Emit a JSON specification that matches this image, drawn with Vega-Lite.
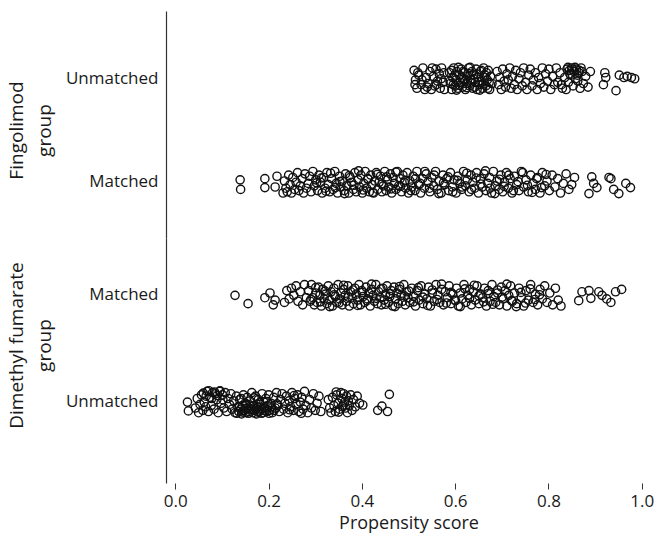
{
"$schema": "https://vega.github.io/schema/vega-lite/v6.json",
"background": "white",
"padding": {"left": 7, "top": 11, "right": 0, "bottom": 4},
"spacing": 0,
"config": {
  "font": "Open Sans",
  "view": {"stroke": null},
  "axis": {"labelFont": "Open Sans", "titleFont": "Open Sans", "labelFontSize": 17, "titleFontSize": 19, "titleFontWeight": "normal", "labelColor": "#1a1a1a", "titleColor": "#1a1a1a", "domainColor": "#333333", "tickColor": "#333333", "grid": false, "titleLineHeight": 28}
},
"datasets": {
"fing": [
{"s":"Unmatched","x":0.512,"j":-0.7},{"s":"Unmatched","x":0.515,"j":0.1},{"s":"Unmatched","x":0.518,"j":0.8},{"s":"Unmatched","x":0.522,"j":-0.3},{"s":"Unmatched","x":0.527,"j":0.5},{"s":"Unmatched","x":0.531,"j":-0.9},{"s":"Unmatched","x":0.535,"j":0.9},{"s":"Unmatched","x":0.538,"j":-0.1},{"s":"Unmatched","x":0.542,"j":0.4},{"s":"Unmatched","x":0.546,"j":-0.6},{"s":"Unmatched","x":0.549,"j":0.9},{"s":"Unmatched","x":0.553,"j":-0.2},{"s":"Unmatched","x":0.556,"j":0.6},{"s":"Unmatched","x":0.559,"j":-0.8},{"s":"Unmatched","x":0.562,"j":0.2},{"s":"Unmatched","x":0.566,"j":-0.4},{"s":"Unmatched","x":0.568,"j":0.8},{"s":"Unmatched","x":0.571,"j":-0.9},{"s":"Unmatched","x":0.574,"j":0.3},{"s":"Unmatched","x":0.577,"j":0.9},
{"s":"Unmatched","x":0.514,"j":0.5},{"s":"Unmatched","x":0.520,"j":-0.5},{"s":"Unmatched","x":0.529,"j":0.1},{"s":"Unmatched","x":0.540,"j":0.7},{"s":"Unmatched","x":0.551,"j":-0.9},{"s":"Unmatched","x":0.560,"j":0.5},{"s":"Unmatched","x":0.570,"j":0.0},{"s":"Unmatched","x":0.576,"j":-0.5},
{"s":"Unmatched","x":0.588,"j":-0.5},{"s":"Unmatched","x":0.590,"j":0.4},{"s":"Unmatched","x":0.593,"j":0.9},{"s":"Unmatched","x":0.595,"j":-0.1},{"s":"Unmatched","x":0.597,"j":-0.9},{"s":"Unmatched","x":0.600,"j":0.6},{"s":"Unmatched","x":0.602,"j":0.1},{"s":"Unmatched","x":0.604,"j":-0.6},{"s":"Unmatched","x":0.606,"j":0.8},{"s":"Unmatched","x":0.609,"j":-0.3},{"s":"Unmatched","x":0.611,"j":0.3},{"s":"Unmatched","x":0.613,"j":-0.8},{"s":"Unmatched","x":0.616,"j":0.7},{"s":"Unmatched","x":0.618,"j":0.0},{"s":"Unmatched","x":0.620,"j":-0.5},{"s":"Unmatched","x":0.622,"j":0.9},{"s":"Unmatched","x":0.624,"j":0.4},{"s":"Unmatched","x":0.627,"j":-0.2},{"s":"Unmatched","x":0.629,"j":-0.9},{"s":"Unmatched","x":0.631,"j":0.6},{"s":"Unmatched","x":0.633,"j":0.1},{"s":"Unmatched","x":0.636,"j":-0.6},{"s":"Unmatched","x":0.638,"j":0.8},{"s":"Unmatched","x":0.640,"j":-0.3},{"s":"Unmatched","x":0.643,"j":0.3},{"s":"Unmatched","x":0.645,"j":-0.8},{"s":"Unmatched","x":0.647,"j":0.9},{"s":"Unmatched","x":0.650,"j":-0.1},{"s":"Unmatched","x":0.652,"j":0.5},{"s":"Unmatched","x":0.654,"j":-0.6},{"s":"Unmatched","x":0.657,"j":0.2},{"s":"Unmatched","x":0.659,"j":0.8},{"s":"Unmatched","x":0.661,"j":-0.9},{"s":"Unmatched","x":0.664,"j":-0.3},{"s":"Unmatched","x":0.666,"j":0.6},{"s":"Unmatched","x":0.669,"j":0.1},{"s":"Unmatched","x":0.671,"j":-0.7},{"s":"Unmatched","x":0.674,"j":0.9},{"s":"Unmatched","x":0.676,"j":-0.2},{"s":"Unmatched","x":0.679,"j":0.4},
{"s":"Unmatched","x":0.589,"j":0.2},{"s":"Unmatched","x":0.592,"j":-0.7},{"s":"Unmatched","x":0.596,"j":0.5},{"s":"Unmatched","x":0.599,"j":-0.3},{"s":"Unmatched","x":0.603,"j":0.95},{"s":"Unmatched","x":0.607,"j":-0.95},{"s":"Unmatched","x":0.610,"j":0.55},{"s":"Unmatched","x":0.614,"j":-0.1},{"s":"Unmatched","x":0.617,"j":-0.6},{"s":"Unmatched","x":0.621,"j":0.2},{"s":"Unmatched","x":0.625,"j":0.75},{"s":"Unmatched","x":0.628,"j":-0.45},{"s":"Unmatched","x":0.632,"j":-0.95},{"s":"Unmatched","x":0.635,"j":0.35},{"s":"Unmatched","x":0.639,"j":0.0},{"s":"Unmatched","x":0.642,"j":0.7},{"s":"Unmatched","x":0.646,"j":-0.4},{"s":"Unmatched","x":0.649,"j":0.25},{"s":"Unmatched","x":0.653,"j":0.95},{"s":"Unmatched","x":0.656,"j":-0.7},{"s":"Unmatched","x":0.660,"j":0.45},{"s":"Unmatched","x":0.663,"j":-0.1},{"s":"Unmatched","x":0.667,"j":-0.5},{"s":"Unmatched","x":0.670,"j":0.8},{"s":"Unmatched","x":0.673,"j":0.3},
{"s":"Unmatched","x":0.690,"j":-0.6},{"s":"Unmatched","x":0.693,"j":0.5},{"s":"Unmatched","x":0.696,"j":-0.1},{"s":"Unmatched","x":0.699,"j":0.9},{"s":"Unmatched","x":0.702,"j":-0.8},{"s":"Unmatched","x":0.705,"j":0.2},{"s":"Unmatched","x":0.708,"j":0.7},{"s":"Unmatched","x":0.711,"j":-0.4},{"s":"Unmatched","x":0.714,"j":0.1},{"s":"Unmatched","x":0.717,"j":-0.9},{"s":"Unmatched","x":0.720,"j":0.8},{"s":"Unmatched","x":0.723,"j":-0.2},{"s":"Unmatched","x":0.727,"j":0.5},{"s":"Unmatched","x":0.730,"j":-0.7},{"s":"Unmatched","x":0.733,"j":0.9},{"s":"Unmatched","x":0.737,"j":0.0},{"s":"Unmatched","x":0.740,"j":-0.5},{"s":"Unmatched","x":0.744,"j":0.6},{"s":"Unmatched","x":0.747,"j":-0.9},{"s":"Unmatched","x":0.751,"j":0.3},{"s":"Unmatched","x":0.754,"j":0.9},{"s":"Unmatched","x":0.758,"j":-0.3},{"s":"Unmatched","x":0.761,"j":-0.8},{"s":"Unmatched","x":0.765,"j":0.6},{"s":"Unmatched","x":0.768,"j":0.1},{"s":"Unmatched","x":0.772,"j":-0.5},{"s":"Unmatched","x":0.776,"j":0.9},{"s":"Unmatched","x":0.779,"j":-0.1},{"s":"Unmatched","x":0.783,"j":0.4},{"s":"Unmatched","x":0.787,"j":-0.9},{"s":"Unmatched","x":0.790,"j":0.7},{"s":"Unmatched","x":0.794,"j":-0.4},{"s":"Unmatched","x":0.798,"j":0.2},{"s":"Unmatched","x":0.801,"j":-0.8},{"s":"Unmatched","x":0.805,"j":0.9},{"s":"Unmatched","x":0.809,"j":-0.2},{"s":"Unmatched","x":0.813,"j":0.5},{"s":"Unmatched","x":0.817,"j":-0.9},{"s":"Unmatched","x":0.820,"j":0.3},{"s":"Unmatched","x":0.825,"j":-0.5},{"s":"Unmatched","x":0.828,"j":0.5},{"s":"Unmatched","x":0.830,"j":0.8},{"s":"Unmatched","x":0.835,"j":-0.1},{"s":"Unmatched","x":0.838,"j":0.9},{"s":"Unmatched","x":0.840,"j":-0.8},{"s":"Unmatched","x":0.845,"j":-0.7},{"s":"Unmatched","x":0.848,"j":-0.3},{"s":"Unmatched","x":0.850,"j":-0.9},{"s":"Unmatched","x":0.855,"j":-0.6},{"s":"Unmatched","x":0.858,"j":0.0},{"s":"Unmatched","x":0.860,"j":-0.8},{"s":"Unmatched","x":0.865,"j":-0.5},{"s":"Unmatched","x":0.868,"j":0.8},{"s":"Unmatched","x":0.870,"j":-0.9},{"s":"Unmatched","x":0.875,"j":0.4},{"s":"Unmatched","x":0.880,"j":-0.2},{"s":"Unmatched","x":0.885,"j":0.7},{"s":"Unmatched","x":0.890,"j":-0.6},
{"s":"Unmatched","x":0.842,"j":-0.95},{"s":"Unmatched","x":0.846,"j":-0.4},{"s":"Unmatched","x":0.852,"j":-0.75},{"s":"Unmatched","x":0.857,"j":-0.95},{"s":"Unmatched","x":0.862,"j":-0.3},{"s":"Unmatched","x":0.866,"j":-0.7},{"s":"Unmatched","x":0.872,"j":-0.6},{"s":"Unmatched","x":0.843,"j":0.3},{"s":"Unmatched","x":0.853,"j":0.6},{"s":"Unmatched","x":0.863,"j":0.2},
{"s":"Unmatched","x":0.921,"j":-0.5},{"s":"Unmatched","x":0.923,"j":-0.1},{"s":"Unmatched","x":0.918,"j":0.5},{"s":"Unmatched","x":0.945,"j":1.0},{"s":"Unmatched","x":0.952,"j":-0.3},{"s":"Unmatched","x":0.962,"j":-0.1},{"s":"Unmatched","x":0.969,"j":-0.2},{"s":"Unmatched","x":0.978,"j":-0.1},{"s":"Unmatched","x":0.985,"j":0.0},
{"s":"Matched","x":0.139,"j":-0.2},{"s":"Matched","x":0.140,"j":0.6},{"s":"Matched","x":0.192,"j":-0.3},{"s":"Matched","x":0.218,"j":-0.5},{"s":"Matched","x":0.192,"j":0.45},{"s":"Matched","x":0.214,"j":0.4},
{"s":"Matched","x":0.231,"j":0.9},{"s":"Matched","x":0.234,"j":-0.1},{"s":"Matched","x":0.237,"j":0.5},{"s":"Matched","x":0.240,"j":0.8},{"s":"Matched","x":0.243,"j":-0.6},{"s":"Matched","x":0.246,"j":0.2},{"s":"Matched","x":0.249,"j":0.9},{"s":"Matched","x":0.252,"j":-0.4},{"s":"Matched","x":0.256,"j":0.6},{"s":"Matched","x":0.259,"j":0.0},{"s":"Matched","x":0.262,"j":-0.8},{"s":"Matched","x":0.265,"j":0.7},{"s":"Matched","x":0.268,"j":0.3},{"s":"Matched","x":0.272,"j":-0.3},{"s":"Matched","x":0.275,"j":0.9},{"s":"Matched","x":0.278,"j":-0.7},{"s":"Matched","x":0.281,"j":0.5},{"s":"Matched","x":0.285,"j":0.1},{"s":"Matched","x":0.288,"j":-0.5},{"s":"Matched","x":0.291,"j":0.8},{"s":"Matched","x":0.295,"j":-0.9},{"s":"Matched","x":0.298,"j":0.3},{"s":"Matched","x":0.301,"j":-0.2},{"s":"Matched","x":0.305,"j":0.7},{"s":"Matched","x":0.308,"j":-0.6},{"s":"Matched","x":0.311,"j":0.0},{"s":"Matched","x":0.315,"j":0.9},{"s":"Matched","x":0.318,"j":-0.4},{"s":"Matched","x":0.321,"j":0.5},{"s":"Matched","x":0.325,"j":-0.8},{"s":"Matched","x":0.328,"j":0.2},{"s":"Matched","x":0.331,"j":0.8},{"s":"Matched","x":0.335,"j":-0.3},{"s":"Matched","x":0.338,"j":0.6},{"s":"Matched","x":0.342,"j":-0.9},{"s":"Matched","x":0.345,"j":0.1},{"s":"Matched","x":0.348,"j":0.9},{"s":"Matched","x":0.352,"j":-0.5},{"s":"Matched","x":0.355,"j":0.4},{"s":"Matched","x":0.358,"j":-0.1},{"s":"Matched","x":0.362,"j":0.7},{"s":"Matched","x":0.365,"j":-0.7},{"s":"Matched","x":0.368,"j":0.3},{"s":"Matched","x":0.372,"j":0.9},{"s":"Matched","x":0.375,"j":-0.4},{"s":"Matched","x":0.378,"j":0.0},{"s":"Matched","x":0.382,"j":0.6},{"s":"Matched","x":0.385,"j":-0.8},{"s":"Matched","x":0.388,"j":0.8},{"s":"Matched","x":0.392,"j":-0.2},{"s":"Matched","x":0.395,"j":0.4},{"s":"Matched","x":0.398,"j":-0.6},
{"s":"Matched","x":0.401,"j":0.9},{"s":"Matched","x":0.404,"j":0.1},{"s":"Matched","x":0.407,"j":-0.9},{"s":"Matched","x":0.410,"j":0.5},{"s":"Matched","x":0.413,"j":-0.3},{"s":"Matched","x":0.416,"j":0.8},{"s":"Matched","x":0.419,"j":-0.6},{"s":"Matched","x":0.422,"j":0.2},{"s":"Matched","x":0.425,"j":0.9},{"s":"Matched","x":0.428,"j":-0.1},{"s":"Matched","x":0.431,"j":-0.8},{"s":"Matched","x":0.434,"j":0.6},{"s":"Matched","x":0.437,"j":0.0},{"s":"Matched","x":0.440,"j":-0.5},{"s":"Matched","x":0.443,"j":0.8},{"s":"Matched","x":0.446,"j":0.3},{"s":"Matched","x":0.449,"j":-0.9},{"s":"Matched","x":0.452,"j":0.7},{"s":"Matched","x":0.455,"j":-0.2},{"s":"Matched","x":0.458,"j":0.4},{"s":"Matched","x":0.461,"j":-0.7},{"s":"Matched","x":0.464,"j":0.9},{"s":"Matched","x":0.467,"j":-0.4},{"s":"Matched","x":0.470,"j":0.1},{"s":"Matched","x":0.473,"j":0.6},{"s":"Matched","x":0.476,"j":-0.9},{"s":"Matched","x":0.479,"j":0.3},{"s":"Matched","x":0.482,"j":-0.3},{"s":"Matched","x":0.485,"j":0.8},{"s":"Matched","x":0.488,"j":-0.6},{"s":"Matched","x":0.491,"j":0.0},{"s":"Matched","x":0.494,"j":0.5},{"s":"Matched","x":0.497,"j":-0.8},{"s":"Matched","x":0.500,"j":0.9},{"s":"Matched","x":0.503,"j":-0.1},{"s":"Matched","x":0.507,"j":0.4},{"s":"Matched","x":0.510,"j":-0.5},{"s":"Matched","x":0.514,"j":0.7},{"s":"Matched","x":0.518,"j":-0.9},{"s":"Matched","x":0.522,"j":0.2},{"s":"Matched","x":0.526,"j":0.9},{"s":"Matched","x":0.530,"j":-0.3},{"s":"Matched","x":0.534,"j":0.5},{"s":"Matched","x":0.538,"j":-0.7},{"s":"Matched","x":0.542,"j":0.0},{"s":"Matched","x":0.546,"j":0.8},{"s":"Matched","x":0.550,"j":-0.4},{"s":"Matched","x":0.554,"j":0.3},{"s":"Matched","x":0.558,"j":-0.9},{"s":"Matched","x":0.562,"j":0.6},{"s":"Matched","x":0.566,"j":-0.1},{"s":"Matched","x":0.570,"j":0.9},{"s":"Matched","x":0.574,"j":-0.6},{"s":"Matched","x":0.578,"j":0.2},{"s":"Matched","x":0.582,"j":-0.3},{"s":"Matched","x":0.586,"j":0.7},{"s":"Matched","x":0.590,"j":-0.8},{"s":"Matched","x":0.594,"j":0.4},{"s":"Matched","x":0.598,"j":-0.2},
{"s":"Matched","x":0.602,"j":0.9},{"s":"Matched","x":0.606,"j":-0.5},{"s":"Matched","x":0.610,"j":0.1},{"s":"Matched","x":0.614,"j":0.6},{"s":"Matched","x":0.618,"j":-0.9},{"s":"Matched","x":0.622,"j":0.3},{"s":"Matched","x":0.626,"j":-0.2},{"s":"Matched","x":0.630,"j":0.8},{"s":"Matched","x":0.634,"j":-0.6},{"s":"Matched","x":0.638,"j":0.0},{"s":"Matched","x":0.642,"j":0.5},{"s":"Matched","x":0.646,"j":-0.8},{"s":"Matched","x":0.650,"j":0.9},{"s":"Matched","x":0.654,"j":-0.3},{"s":"Matched","x":0.658,"j":0.4},{"s":"Matched","x":0.662,"j":-0.7},{"s":"Matched","x":0.666,"j":0.7},{"s":"Matched","x":0.670,"j":0.1},{"s":"Matched","x":0.674,"j":-0.4},{"s":"Matched","x":0.678,"j":0.9},{"s":"Matched","x":0.682,"j":-0.9},{"s":"Matched","x":0.686,"j":0.3},{"s":"Matched","x":0.690,"j":-0.1},{"s":"Matched","x":0.694,"j":0.6},{"s":"Matched","x":0.698,"j":-0.6},{"s":"Matched","x":0.702,"j":0.8},{"s":"Matched","x":0.706,"j":0.0},{"s":"Matched","x":0.710,"j":-0.8},{"s":"Matched","x":0.714,"j":0.5},{"s":"Matched","x":0.718,"j":-0.3},{"s":"Matched","x":0.722,"j":0.9},{"s":"Matched","x":0.727,"j":-0.5},{"s":"Matched","x":0.732,"j":0.2},{"s":"Matched","x":0.737,"j":0.7},{"s":"Matched","x":0.742,"j":-0.9},{"s":"Matched","x":0.747,"j":0.4},{"s":"Matched","x":0.752,"j":-0.2},{"s":"Matched","x":0.757,"j":0.8},{"s":"Matched","x":0.762,"j":-0.6},{"s":"Matched","x":0.767,"j":0.1},{"s":"Matched","x":0.772,"j":0.6},{"s":"Matched","x":0.777,"j":-0.4},{"s":"Matched","x":0.782,"j":0.9},{"s":"Matched","x":0.787,"j":-0.8},{"s":"Matched","x":0.792,"j":0.3},{"s":"Matched","x":0.797,"j":-0.1},{"s":"Matched","x":0.802,"j":0.7},{"s":"Matched","x":0.808,"j":-0.6},{"s":"Matched","x":0.814,"j":0.4},{"s":"Matched","x":0.820,"j":-0.3},{"s":"Matched","x":0.826,"j":0.9},{"s":"Matched","x":0.832,"j":0.1},{"s":"Matched","x":0.838,"j":-0.7},{"s":"Matched","x":0.844,"j":0.6},{"s":"Matched","x":0.850,"j":0.2},{"s":"Matched","x":0.856,"j":-0.4},
{"s":"Matched","x":0.303,"j":0.05},{"s":"Matched","x":0.313,"j":-0.35},{"s":"Matched","x":0.323,"j":0.75},{"s":"Matched","x":0.333,"j":-0.75},{"s":"Matched","x":0.343,"j":0.45},{"s":"Matched","x":0.353,"j":-0.05},{"s":"Matched","x":0.363,"j":0.95},{"s":"Matched","x":0.373,"j":-0.55},{"s":"Matched","x":0.383,"j":0.25},{"s":"Matched","x":0.393,"j":-0.95},{"s":"Matched","x":0.403,"j":0.65},{"s":"Matched","x":0.413,"j":-0.25},{"s":"Matched","x":0.423,"j":0.85},{"s":"Matched","x":0.433,"j":-0.65},{"s":"Matched","x":0.443,"j":0.15},{"s":"Matched","x":0.453,"j":-0.45},{"s":"Matched","x":0.463,"j":0.55},{"s":"Matched","x":0.473,"j":-0.85},{"s":"Matched","x":0.483,"j":0.35},{"s":"Matched","x":0.493,"j":-0.15},{"s":"Matched","x":0.505,"j":0.7},{"s":"Matched","x":0.515,"j":-0.3},{"s":"Matched","x":0.525,"j":0.1},{"s":"Matched","x":0.535,"j":-0.9},{"s":"Matched","x":0.545,"j":0.5},{"s":"Matched","x":0.555,"j":-0.6},{"s":"Matched","x":0.565,"j":0.95},{"s":"Matched","x":0.575,"j":0.05},{"s":"Matched","x":0.585,"j":-0.45},{"s":"Matched","x":0.595,"j":0.8},{"s":"Matched","x":0.605,"j":-0.15},{"s":"Matched","x":0.615,"j":0.4},{"s":"Matched","x":0.625,"j":-0.75},{"s":"Matched","x":0.635,"j":0.6},{"s":"Matched","x":0.645,"j":-0.35},{"s":"Matched","x":0.655,"j":0.15},{"s":"Matched","x":0.665,"j":-0.95},{"s":"Matched","x":0.675,"j":0.5},{"s":"Matched","x":0.685,"j":0.95},{"s":"Matched","x":0.695,"j":-0.25},{"s":"Matched","x":0.705,"j":0.35},{"s":"Matched","x":0.715,"j":-0.6},{"s":"Matched","x":0.725,"j":0.7},{"s":"Matched","x":0.735,"j":-0.05},{"s":"Matched","x":0.745,"j":-0.8},{"s":"Matched","x":0.755,"j":0.25},{"s":"Matched","x":0.765,"j":0.85},{"s":"Matched","x":0.775,"j":-0.3},{"s":"Matched","x":0.785,"j":0.45},{"s":"Matched","x":0.795,"j":-0.65},
{"s":"Matched","x":0.893,"j":-0.45},{"s":"Matched","x":0.897,"j":0.1},{"s":"Matched","x":0.904,"j":0.45},{"s":"Matched","x":0.887,"j":0.95},{"s":"Matched","x":0.930,"j":-0.4},{"s":"Matched","x":0.934,"j":-0.3},{"s":"Matched","x":0.940,"j":0.6},{"s":"Matched","x":0.951,"j":0.95},{"s":"Matched","x":0.966,"j":0.1},{"s":"Matched","x":0.976,"j":0.45}
],
"dmf": [
{"s":"Matched","x":0.128,"j":0.0},{"s":"Matched","x":0.156,"j":0.7},{"s":"Matched","x":0.192,"j":0.2},{"s":"Matched","x":0.203,"j":-0.2},{"s":"Matched","x":0.214,"j":0.4},{"s":"Matched","x":0.210,"j":0.8},{"s":"Matched","x":0.234,"j":0.6},{"s":"Matched","x":0.239,"j":-0.4},{"s":"Matched","x":0.244,"j":0.3},{"s":"Matched","x":0.249,"j":-0.6},{"s":"Matched","x":0.254,"j":0.0},{"s":"Matched","x":0.259,"j":-0.8},{"s":"Matched","x":0.263,"j":0.5},{"s":"Matched","x":0.268,"j":-0.3},{"s":"Matched","x":0.273,"j":0.8},{"s":"Matched","x":0.277,"j":-0.9},{"s":"Matched","x":0.281,"j":0.2},
{"s":"Matched","x":0.286,"j":-0.4},{"s":"Matched","x":0.289,"j":0.5},{"s":"Matched","x":0.292,"j":-0.9},{"s":"Matched","x":0.295,"j":0.2},{"s":"Matched","x":0.298,"j":0.8},{"s":"Matched","x":0.301,"j":-0.2},{"s":"Matched","x":0.304,"j":0.6},{"s":"Matched","x":0.307,"j":-0.7},{"s":"Matched","x":0.310,"j":0.0},{"s":"Matched","x":0.313,"j":0.9},{"s":"Matched","x":0.316,"j":-0.5},{"s":"Matched","x":0.319,"j":0.3},{"s":"Matched","x":0.322,"j":-0.1},{"s":"Matched","x":0.325,"j":0.7},{"s":"Matched","x":0.328,"j":-0.8},{"s":"Matched","x":0.331,"j":0.4},{"s":"Matched","x":0.334,"j":-0.3},{"s":"Matched","x":0.337,"j":0.9},{"s":"Matched","x":0.340,"j":-0.6},{"s":"Matched","x":0.343,"j":0.1},{"s":"Matched","x":0.346,"j":0.6},{"s":"Matched","x":0.349,"j":-0.9},{"s":"Matched","x":0.352,"j":0.3},{"s":"Matched","x":0.355,"j":-0.2},{"s":"Matched","x":0.358,"j":0.8},{"s":"Matched","x":0.361,"j":-0.5},{"s":"Matched","x":0.364,"j":0.0},{"s":"Matched","x":0.367,"j":0.5},{"s":"Matched","x":0.370,"j":-0.8},{"s":"Matched","x":0.373,"j":0.9},{"s":"Matched","x":0.376,"j":-0.3},{"s":"Matched","x":0.379,"j":0.2},{"s":"Matched","x":0.382,"j":0.7},{"s":"Matched","x":0.385,"j":-0.6},{"s":"Matched","x":0.388,"j":-0.1},{"s":"Matched","x":0.391,"j":0.4},{"s":"Matched","x":0.394,"j":-0.9},{"s":"Matched","x":0.397,"j":0.8},{"s":"Matched","x":0.400,"j":-0.4},{"s":"Matched","x":0.403,"j":0.1},{"s":"Matched","x":0.406,"j":0.6},{"s":"Matched","x":0.409,"j":-0.7},{"s":"Matched","x":0.412,"j":0.3},{"s":"Matched","x":0.415,"j":-0.2},{"s":"Matched","x":0.418,"j":0.9},{"s":"Matched","x":0.421,"j":-0.5},{"s":"Matched","x":0.424,"j":0.0},{"s":"Matched","x":0.427,"j":0.5},{"s":"Matched","x":0.430,"j":-0.9},{"s":"Matched","x":0.433,"j":0.7},{"s":"Matched","x":0.436,"j":-0.3},{"s":"Matched","x":0.439,"j":0.2},{"s":"Matched","x":0.442,"j":0.8},{"s":"Matched","x":0.445,"j":-0.6},{"s":"Matched","x":0.448,"j":0.4},{"s":"Matched","x":0.451,"j":-0.1},{"s":"Matched","x":0.454,"j":-0.8},{"s":"Matched","x":0.457,"j":0.6},{"s":"Matched","x":0.460,"j":0.1},{"s":"Matched","x":0.463,"j":-0.4},{"s":"Matched","x":0.466,"j":0.9},{"s":"Matched","x":0.469,"j":-0.7},{"s":"Matched","x":0.472,"j":0.3},{"s":"Matched","x":0.475,"j":-0.2},{"s":"Matched","x":0.478,"j":0.7},{"s":"Matched","x":0.481,"j":-0.5},{"s":"Matched","x":0.484,"j":0.0},{"s":"Matched","x":0.487,"j":0.5},{"s":"Matched","x":0.490,"j":-0.9},{"s":"Matched","x":0.493,"j":0.8},{"s":"Matched","x":0.496,"j":-0.3},{"s":"Matched","x":0.499,"j":0.2},
{"s":"Matched","x":0.503,"j":0.6},{"s":"Matched","x":0.507,"j":-0.6},{"s":"Matched","x":0.511,"j":0.1},{"s":"Matched","x":0.515,"j":0.9},{"s":"Matched","x":0.519,"j":-0.4},{"s":"Matched","x":0.523,"j":0.4},{"s":"Matched","x":0.527,"j":-0.8},{"s":"Matched","x":0.531,"j":0.7},{"s":"Matched","x":0.535,"j":-0.1},{"s":"Matched","x":0.539,"j":0.3},{"s":"Matched","x":0.543,"j":-0.7},{"s":"Matched","x":0.547,"j":0.9},{"s":"Matched","x":0.551,"j":-0.2},{"s":"Matched","x":0.555,"j":0.5},{"s":"Matched","x":0.559,"j":-0.9},{"s":"Matched","x":0.563,"j":0.0},{"s":"Matched","x":0.567,"j":0.6},{"s":"Matched","x":0.571,"j":-0.5},{"s":"Matched","x":0.575,"j":0.8},{"s":"Matched","x":0.579,"j":-0.3},{"s":"Matched","x":0.583,"j":0.2},{"s":"Matched","x":0.587,"j":-0.8},{"s":"Matched","x":0.591,"j":0.7},{"s":"Matched","x":0.595,"j":-0.1},{"s":"Matched","x":0.599,"j":0.4},
{"s":"Matched","x":0.603,"j":-0.6},{"s":"Matched","x":0.607,"j":0.9},{"s":"Matched","x":0.611,"j":-0.2},{"s":"Matched","x":0.615,"j":0.3},{"s":"Matched","x":0.619,"j":-0.9},{"s":"Matched","x":0.623,"j":0.6},{"s":"Matched","x":0.627,"j":0.0},{"s":"Matched","x":0.631,"j":-0.5},{"s":"Matched","x":0.635,"j":0.8},{"s":"Matched","x":0.639,"j":-0.3},{"s":"Matched","x":0.643,"j":0.4},{"s":"Matched","x":0.647,"j":-0.8},{"s":"Matched","x":0.651,"j":0.7},{"s":"Matched","x":0.655,"j":-0.1},{"s":"Matched","x":0.659,"j":0.2},{"s":"Matched","x":0.663,"j":-0.6},{"s":"Matched","x":0.667,"j":0.9},{"s":"Matched","x":0.671,"j":-0.4},{"s":"Matched","x":0.675,"j":0.5},{"s":"Matched","x":0.679,"j":-0.9},{"s":"Matched","x":0.683,"j":0.1},{"s":"Matched","x":0.687,"j":0.6},{"s":"Matched","x":0.691,"j":-0.2},{"s":"Matched","x":0.695,"j":0.8},{"s":"Matched","x":0.699,"j":-0.7},{"s":"Matched","x":0.703,"j":0.3},{"s":"Matched","x":0.707,"j":-0.4},{"s":"Matched","x":0.711,"j":0.9},{"s":"Matched","x":0.715,"j":0.0},{"s":"Matched","x":0.719,"j":-0.8},{"s":"Matched","x":0.723,"j":0.5},{"s":"Matched","x":0.727,"j":-0.2},{"s":"Matched","x":0.732,"j":0.7},{"s":"Matched","x":0.737,"j":-0.6},{"s":"Matched","x":0.742,"j":0.2},{"s":"Matched","x":0.747,"j":0.9},{"s":"Matched","x":0.752,"j":-0.4},{"s":"Matched","x":0.757,"j":0.4},{"s":"Matched","x":0.762,"j":-0.9},{"s":"Matched","x":0.767,"j":0.6},{"s":"Matched","x":0.772,"j":-0.1},{"s":"Matched","x":0.777,"j":0.8},{"s":"Matched","x":0.782,"j":-0.5},{"s":"Matched","x":0.787,"j":0.3},{"s":"Matched","x":0.792,"j":-0.8},{"s":"Matched","x":0.797,"j":0.6},{"s":"Matched","x":0.803,"j":-0.2},{"s":"Matched","x":0.809,"j":0.8},{"s":"Matched","x":0.815,"j":-0.6},{"s":"Matched","x":0.821,"j":0.4},{"s":"Matched","x":0.827,"j":0.9},
{"s":"Matched","x":0.291,"j":0.35},{"s":"Matched","x":0.301,"j":-0.65},{"s":"Matched","x":0.311,"j":0.55},{"s":"Matched","x":0.321,"j":-0.35},{"s":"Matched","x":0.331,"j":0.95},{"s":"Matched","x":0.341,"j":-0.05},{"s":"Matched","x":0.351,"j":0.65},{"s":"Matched","x":0.361,"j":-0.85},{"s":"Matched","x":0.371,"j":0.15},{"s":"Matched","x":0.381,"j":-0.45},{"s":"Matched","x":0.391,"j":0.85},{"s":"Matched","x":0.401,"j":-0.25},{"s":"Matched","x":0.411,"j":0.45},{"s":"Matched","x":0.421,"j":-0.95},{"s":"Matched","x":0.431,"j":0.25},{"s":"Matched","x":0.441,"j":-0.55},{"s":"Matched","x":0.451,"j":0.75},{"s":"Matched","x":0.461,"j":-0.15},{"s":"Matched","x":0.471,"j":0.95},{"s":"Matched","x":0.481,"j":-0.75},{"s":"Matched","x":0.491,"j":0.05},{"s":"Matched","x":0.501,"j":-0.35},{"s":"Matched","x":0.511,"j":0.55},{"s":"Matched","x":0.521,"j":-0.65},{"s":"Matched","x":0.531,"j":0.15},{"s":"Matched","x":0.541,"j":0.85},{"s":"Matched","x":0.551,"j":-0.45},{"s":"Matched","x":0.561,"j":0.35},{"s":"Matched","x":0.571,"j":-0.95},{"s":"Matched","x":0.581,"j":0.65},{"s":"Matched","x":0.591,"j":-0.25},{"s":"Matched","x":0.601,"j":0.45},{"s":"Matched","x":0.611,"j":0.95},{"s":"Matched","x":0.621,"j":-0.55},{"s":"Matched","x":0.631,"j":0.25},{"s":"Matched","x":0.641,"j":-0.85},{"s":"Matched","x":0.651,"j":0.05},{"s":"Matched","x":0.661,"j":0.55},{"s":"Matched","x":0.671,"j":-0.15},{"s":"Matched","x":0.681,"j":0.75},{"s":"Matched","x":0.691,"j":-0.45},{"s":"Matched","x":0.701,"j":0.15},{"s":"Matched","x":0.711,"j":-0.95},{"s":"Matched","x":0.721,"j":0.45},{"s":"Matched","x":0.731,"j":0.95},{"s":"Matched","x":0.741,"j":-0.25},{"s":"Matched","x":0.751,"j":0.65},{"s":"Matched","x":0.761,"j":-0.55},{"s":"Matched","x":0.771,"j":0.35},{"s":"Matched","x":0.781,"j":-0.05},
{"s":"Matched","x":0.865,"j":0.45},{"s":"Matched","x":0.872,"j":-0.3},{"s":"Matched","x":0.887,"j":-0.4},{"s":"Matched","x":0.891,"j":0.25},{"s":"Matched","x":0.908,"j":-0.3},{"s":"Matched","x":0.915,"j":0.0},{"s":"Matched","x":0.925,"j":0.3},{"s":"Matched","x":0.934,"j":0.6},{"s":"Matched","x":0.944,"j":-0.3},{"s":"Matched","x":0.957,"j":-0.5},
{"s":"Unmatched","x":0.026,"j":0.0},{"s":"Unmatched","x":0.028,"j":0.75},
{"s":"Unmatched","x":0.043,"j":0.5},{"s":"Unmatched","x":0.047,"j":-0.3},{"s":"Unmatched","x":0.050,"j":0.9},{"s":"Unmatched","x":0.053,"j":0.2},{"s":"Unmatched","x":0.056,"j":-0.6},{"s":"Unmatched","x":0.059,"j":0.7},{"s":"Unmatched","x":0.062,"j":0.0},{"s":"Unmatched","x":0.065,"j":0.4},{"s":"Unmatched","x":0.068,"j":-0.9},{"s":"Unmatched","x":0.071,"j":0.8},{"s":"Unmatched","x":0.074,"j":-0.4},{"s":"Unmatched","x":0.077,"j":0.3},{"s":"Unmatched","x":0.080,"j":-0.8},{"s":"Unmatched","x":0.083,"j":0.6},{"s":"Unmatched","x":0.086,"j":-0.7},{"s":"Unmatched","x":0.089,"j":-0.2},{"s":"Unmatched","x":0.092,"j":0.9},{"s":"Unmatched","x":0.095,"j":-0.9},{"s":"Unmatched","x":0.098,"j":0.1},{"s":"Unmatched","x":0.101,"j":-0.6},{"s":"Unmatched","x":0.104,"j":0.5},{"s":"Unmatched","x":0.107,"j":-0.8},{"s":"Unmatched","x":0.110,"j":0.8},{"s":"Unmatched","x":0.113,"j":-0.3},{"s":"Unmatched","x":0.116,"j":0.2},{"s":"Unmatched","x":0.119,"j":-0.7},{"s":"Unmatched","x":0.122,"j":0.6},{"s":"Unmatched","x":0.125,"j":-0.1},{"s":"Unmatched","x":0.128,"j":0.9},{"s":"Unmatched","x":0.131,"j":-0.5},{"s":"Unmatched","x":0.134,"j":0.4},{"s":"Unmatched","x":0.136,"j":0.8},{"s":"Unmatched","x":0.138,"j":-0.2},{"s":"Unmatched","x":0.140,"j":0.6},{"s":"Unmatched","x":0.142,"j":1.0},{"s":"Unmatched","x":0.144,"j":0.3},{"s":"Unmatched","x":0.146,"j":-0.6},{"s":"Unmatched","x":0.148,"j":0.7},{"s":"Unmatched","x":0.150,"j":0.1},{"s":"Unmatched","x":0.152,"j":0.9},{"s":"Unmatched","x":0.154,"j":-0.4},{"s":"Unmatched","x":0.156,"j":0.5},{"s":"Unmatched","x":0.158,"j":0.8},{"s":"Unmatched","x":0.160,"j":-0.1},{"s":"Unmatched","x":0.162,"j":0.6},{"s":"Unmatched","x":0.164,"j":-0.8},{"s":"Unmatched","x":0.166,"j":0.9},{"s":"Unmatched","x":0.168,"j":0.3},{"s":"Unmatched","x":0.170,"j":0.7},{"s":"Unmatched","x":0.172,"j":-0.5},{"s":"Unmatched","x":0.174,"j":1.0},{"s":"Unmatched","x":0.176,"j":0.4},{"s":"Unmatched","x":0.178,"j":-0.2},{"s":"Unmatched","x":0.180,"j":0.8},{"s":"Unmatched","x":0.182,"j":0.2},{"s":"Unmatched","x":0.184,"j":0.6},{"s":"Unmatched","x":0.186,"j":-0.7},{"s":"Unmatched","x":0.188,"j":0.9},{"s":"Unmatched","x":0.190,"j":0.0},{"s":"Unmatched","x":0.192,"j":0.5},{"s":"Unmatched","x":0.194,"j":-0.3},{"s":"Unmatched","x":0.196,"j":0.8},{"s":"Unmatched","x":0.198,"j":0.3},{"s":"Unmatched","x":0.200,"j":-0.6},{"s":"Unmatched","x":0.202,"j":0.7},{"s":"Unmatched","x":0.205,"j":0.1},{"s":"Unmatched","x":0.208,"j":0.9},{"s":"Unmatched","x":0.211,"j":-0.4},{"s":"Unmatched","x":0.214,"j":0.5},{"s":"Unmatched","x":0.217,"j":-0.8},{"s":"Unmatched","x":0.220,"j":0.3},{"s":"Unmatched","x":0.223,"j":0.8},{"s":"Unmatched","x":0.226,"j":-0.2},{"s":"Unmatched","x":0.229,"j":-0.7},{"s":"Unmatched","x":0.232,"j":0.6},{"s":"Unmatched","x":0.235,"j":0.1},{"s":"Unmatched","x":0.238,"j":-0.5},{"s":"Unmatched","x":0.241,"j":0.9},{"s":"Unmatched","x":0.244,"j":-0.1},{"s":"Unmatched","x":0.247,"j":0.4},{"s":"Unmatched","x":0.250,"j":-0.8},{"s":"Unmatched","x":0.253,"j":0.7},{"s":"Unmatched","x":0.256,"j":-0.3},{"s":"Unmatched","x":0.259,"j":0.2},{"s":"Unmatched","x":0.262,"j":-0.6},{"s":"Unmatched","x":0.265,"j":0.8},{"s":"Unmatched","x":0.268,"j":0.0},{"s":"Unmatched","x":0.271,"j":-0.4},{"s":"Unmatched","x":0.274,"j":0.6},{"s":"Unmatched","x":0.277,"j":-0.9},{"s":"Unmatched","x":0.280,"j":0.3},{"s":"Unmatched","x":0.284,"j":0.9},{"s":"Unmatched","x":0.288,"j":-0.2},{"s":"Unmatched","x":0.292,"j":0.5},{"s":"Unmatched","x":0.296,"j":-0.7},{"s":"Unmatched","x":0.300,"j":0.7},{"s":"Unmatched","x":0.304,"j":0.1},{"s":"Unmatched","x":0.308,"j":-0.5},{"s":"Unmatched","x":0.312,"j":0.8},
{"s":"Unmatched","x":0.132,"j":0.95},{"s":"Unmatched","x":0.137,"j":0.45},{"s":"Unmatched","x":0.141,"j":-0.3},{"s":"Unmatched","x":0.145,"j":0.85},{"s":"Unmatched","x":0.149,"j":0.55},{"s":"Unmatched","x":0.153,"j":0.2},{"s":"Unmatched","x":0.157,"j":0.95},{"s":"Unmatched","x":0.161,"j":0.35},{"s":"Unmatched","x":0.165,"j":0.65},{"s":"Unmatched","x":0.169,"j":-0.35},{"s":"Unmatched","x":0.173,"j":0.55},{"s":"Unmatched","x":0.177,"j":0.85},{"s":"Unmatched","x":0.181,"j":0.05},{"s":"Unmatched","x":0.185,"j":0.95},{"s":"Unmatched","x":0.189,"j":0.45},{"s":"Unmatched","x":0.193,"j":0.75},{"s":"Unmatched","x":0.197,"j":-0.05},{"s":"Unmatched","x":0.201,"j":0.95},{"s":"Unmatched","x":0.206,"j":0.4},{"s":"Unmatched","x":0.212,"j":0.7},{"s":"Unmatched","x":0.218,"j":0.15},{"s":"Unmatched","x":0.060,"j":-0.75},{"s":"Unmatched","x":0.066,"j":-0.5},{"s":"Unmatched","x":0.072,"j":-0.95},{"s":"Unmatched","x":0.078,"j":-0.3},{"s":"Unmatched","x":0.084,"j":-0.85},{"s":"Unmatched","x":0.090,"j":-0.55},{"s":"Unmatched","x":0.096,"j":-0.95},{"s":"Unmatched","x":0.102,"j":-0.2},{"s":"Unmatched","x":0.245,"j":0.65},{"s":"Unmatched","x":0.255,"j":-0.55},{"s":"Unmatched","x":0.270,"j":0.95},{"s":"Unmatched","x":0.345,"j":-0.85},{"s":"Unmatched","x":0.350,"j":0.85},{"s":"Unmatched","x":0.360,"j":0.25},
{"s":"Unmatched","x":0.328,"j":-0.2},{"s":"Unmatched","x":0.331,"j":0.5},{"s":"Unmatched","x":0.334,"j":0.9},{"s":"Unmatched","x":0.337,"j":-0.4},{"s":"Unmatched","x":0.340,"j":0.3},{"s":"Unmatched","x":0.343,"j":0.8},{"s":"Unmatched","x":0.346,"j":-0.6},{"s":"Unmatched","x":0.349,"j":0.1},{"s":"Unmatched","x":0.352,"j":0.6},{"s":"Unmatched","x":0.355,"j":-0.8},{"s":"Unmatched","x":0.357,"j":-0.3},{"s":"Unmatched","x":0.359,"j":0.4},{"s":"Unmatched","x":0.361,"j":-0.7},{"s":"Unmatched","x":0.363,"j":0.0},{"s":"Unmatched","x":0.365,"j":0.5},{"s":"Unmatched","x":0.367,"j":-0.5},{"s":"Unmatched","x":0.369,"j":0.9},{"s":"Unmatched","x":0.371,"j":-0.1},{"s":"Unmatched","x":0.373,"j":0.3},{"s":"Unmatched","x":0.376,"j":-0.6},{"s":"Unmatched","x":0.379,"j":0.7},{"s":"Unmatched","x":0.382,"j":-0.2},{"s":"Unmatched","x":0.386,"j":0.4},{"s":"Unmatched","x":0.390,"j":-0.5},{"s":"Unmatched","x":0.395,"j":0.1},{"s":"Unmatched","x":0.402,"j":0.25},
{"s":"Unmatched","x":0.434,"j":0.7},{"s":"Unmatched","x":0.443,"j":0.35},{"s":"Unmatched","x":0.455,"j":0.8},{"s":"Unmatched","x":0.459,"j":-0.65}
]
},
"resolve": {"scale": {"yOffset": "independent"}},
"vconcat": [
{
  "width": 485, "height": 227,
  "data": {"name": "fing"},
  "mark": {"type": "point", "shape": "circle", "filled": false, "size": 68, "stroke": "#111111", "strokeWidth": 1.4, "opacity": 1},
  "encoding": {
    "x": {"field": "x", "type": "quantitative", "scale": {"domain": [-0.02, 1.02], "nice": false, "zero": false}, "axis": null},
    "y": {"field": "s", "type": "nominal", "scale": {"domain": ["Unmatched", "Matched"], "paddingInner": 0.769, "paddingOuter": 0.481, "align": 0.56}, "axis": {"title": ["Fingolimod", "group"], "titleY": 119, "ticks": false, "labelPadding": 8, "titlePadding": 11, "domainWidth": 1.2}},
    "yOffset": {"field": "j", "type": "quantitative", "scale": {"domain": [-1, 1]}}
  }
},
{
  "width": 485, "height": 245,
  "data": {"name": "dmf"},
  "mark": {"type": "point", "shape": "circle", "filled": false, "size": 68, "stroke": "#111111", "strokeWidth": 1.4, "opacity": 1},
  "encoding": {
    "x": {"field": "x", "type": "quantitative", "scale": {"domain": [-0.02, 1.02], "nice": false, "zero": false}, "axis": {"title": "Propensity score", "titleFontSize": 18, "values": [0, 0.2, 0.4, 0.6, 0.8, 1.0], "format": ".1f", "domain": false, "tickSize": 6, "labelPadding": 4, "titlePadding": 5}},
    "y": {"field": "s", "type": "nominal", "scale": {"domain": ["Matched", "Unmatched"], "paddingInner": 0.778, "paddingOuter": 0.537, "align": 0.397}, "axis": {"title": ["Dimethyl fumarate", "group"], "titleY": 107, "ticks": false, "labelPadding": 8, "titlePadding": 11, "domainWidth": 1.2}},
    "yOffset": {"field": "j", "type": "quantitative", "scale": {"domain": [-1, 1]}}
  }
}
]
}
